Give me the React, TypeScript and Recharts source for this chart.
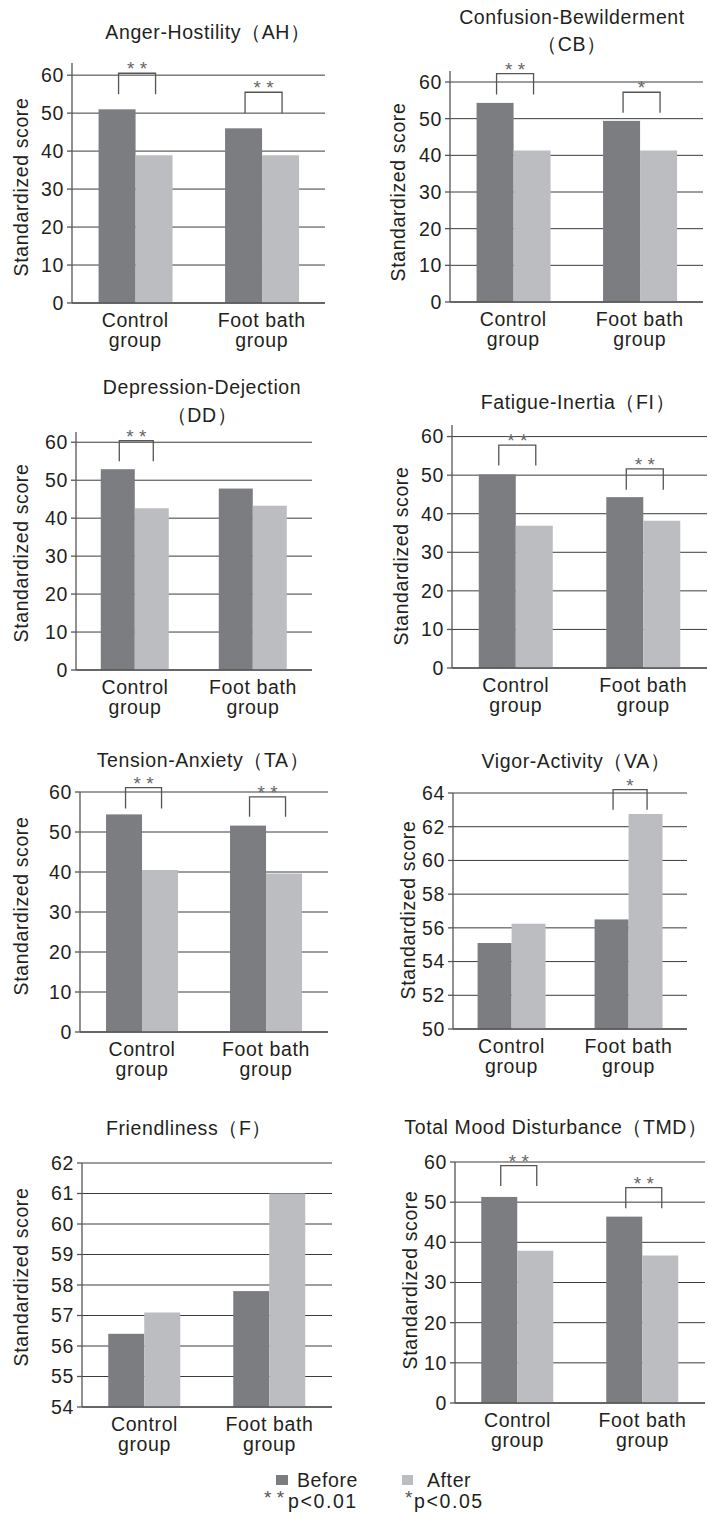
import React from 'react'
import { BarChart, Bar, XAxis, YAxis, CartesianGrid } from 'recharts'

const FONT = "'Liberation Sans', Arial, Helvetica, sans-serif"
const INK = '#231f20'
const BEFORE_COLOR = '#7c7d81'
const AFTER_COLOR = '#bcbdc1'
const FS = 19.5
const LS = 0.6

const groups = ['Control group', 'Foot bath group']

// Anger-Hostility
const ahBefore = [51.0, 46.0]
const ahAfter = [38.9, 38.9]
const ahSig = ['**', '**']
const ahBracketTop = [60.5, 55.5]
const ahBracketLeg = [55.0, 50.0]

// Confusion-Bewilderment
const cbBefore = [54.3, 49.4]
const cbAfter = [41.3, 41.3]
const cbSig = ['**', '*']
const cbBracketTop = [62.3, 57.2]
const cbBracketLeg = [56.6, 51.6]

// Depression-Dejection
const ddBefore = [52.9, 47.8]
const ddAfter = [42.6, 43.3]
const ddSig = ['**', '']
const ddBracketTop = [60.4, 0]
const ddBracketLeg = [55.0, 0]

// Fatigue-Inertia
const fiBefore = [50.2, 44.3]
const fiAfter = [36.9, 38.2]
const fiSig = ['**', '**']
const fiBracketTop = [57.8, 51.6]
const fiBracketLeg = [52.5, 46.2]

// Tension-Anxiety
const taBefore = [54.4, 51.6]
const taAfter = [40.5, 39.6]
const taSig = ['**', '**']
const taBracketTop = [61.1, 58.8]
const taBracketLeg = [55.9, 53.8]

// Vigor-Activity
const vaBefore = [55.1, 56.5]
const vaAfter = [56.25, 62.75]
const vaSig = ['', '*']
const vaBracketTop = [0, 64.2]
const vaBracketLeg = [0, 63.0]

// Friendliness
const fBefore = [56.4, 57.8]
const fAfter = [57.1, 61.0]
const fSig = ['', '']
const fBracketTop = [0, 0]
const fBracketLeg = [0, 0]

// Total Mood Disturbance
const tmdBefore = [51.3, 46.4]
const tmdAfter = [37.9, 36.7]
const tmdSig = ['**', '**']
const tmdBracketTop = [59.1, 53.6]
const tmdBracketLeg = [54.0, 48.5]

const ticks60 = [0, 10, 20, 30, 40, 50, 60]
const ticksVA = [50, 52, 54, 56, 58, 60, 62, 64]
const ticksF = [54, 55, 56, 57, 58, 59, 60, 61, 62]

function rows(before: number[], after: number[], sig: string[], top: number[], leg: number[]) {
  return groups.map((group, i) => ({
    group,
    before: before[i],
    after: after[i],
    sig: sig[i],
    bTop: top[i],
    bLeg: leg[i],
  }))
}

const panels = [
  { title: ['Anger-Hostility（AH）'], titleX: 208, titleY: [32], left: 0, axisX: 72, right: 325, topPx: 63, basePx: 303, domain: [0, 63.2], ticks: ticks60, labelX: 28, labelY: 187, data: rows(ahBefore, ahAfter, ahSig, ahBracketTop, ahBracketLeg) },
  { title: ['Confusion-Bewilderment', '（CB）'], titleX: 572, titleY: [17, 44], left: 350, axisX: 450, right: 703, topPx: 71, basePx: 302, domain: [0, 63], ticks: ticks60, labelX: 405, labelY: 192, data: rows(cbBefore, cbAfter, cbSig, cbBracketTop, cbBracketLeg) },
  { title: ['Depression-Dejection', '（DD）'], titleX: 202, titleY: [387, 415], left: 0, axisX: 76, right: 312, topPx: 432, basePx: 670, domain: [0, 62.7], ticks: ticks60, labelX: 28, labelY: 553, data: rows(ddBefore, ddAfter, ddSig, ddBracketTop, ddBracketLeg) },
  { title: ['Fatigue-Inertia（FI）'], titleX: 578, titleY: [402], left: 350, axisX: 452, right: 707, topPx: 425, basePx: 668, domain: [0, 63], ticks: ticks60, labelX: 408, labelY: 556, data: rows(fiBefore, fiAfter, fiSig, fiBracketTop, fiBracketLeg) },
  { title: ['Tension-Anxiety（TA）'], titleX: 203, titleY: [760], left: 0, axisX: 80, right: 328, topPx: 792, basePx: 1032, domain: [0, 60], ticks: ticks60, labelX: 28, labelY: 906, data: rows(taBefore, taAfter, taSig, taBracketTop, taBracketLeg) },
  { title: ['Vigor-Activity（VA）'], titleX: 576, titleY: [761], left: 350, axisX: 453, right: 687, topPx: 793, basePx: 1029, domain: [50, 64], ticks: ticksVA, labelX: 415, labelY: 910, data: rows(vaBefore, vaAfter, vaSig, vaBracketTop, vaBracketLeg) },
  { title: ['Friendliness（F）'], titleX: 189, titleY: [1128], left: 0, axisX: 82, right: 332, topPx: 1163, basePx: 1407, domain: [54, 62], ticks: ticksF, labelX: 28, labelY: 1277, data: rows(fBefore, fAfter, fSig, fBracketTop, fBracketLeg) },
  { title: ['Total Mood Disturbance（TMD）'], titleX: 556, titleY: [1127], left: 350, axisX: 455, right: 705, topPx: 1162, basePx: 1403, domain: [0, 60], ticks: ticks60, labelX: 417, labelY: 1280, data: rows(tmdBefore, tmdAfter, tmdSig, tmdBracketTop, tmdBracketLeg) },
]

// before bar + significance bracket, y positions derived from the bar's own scale
function makeBeforeShape(dmin: number) {
  return (p: any) => {
    const { x, y, width, height, payload, fill } = p
    const v = payload.before
    const base = y + height
    const k = height / (v - dmin)
    const py = (val: number) => base - (val - dmin) * k
    const parts = [<rect key="r" x={x} y={y} width={width} height={height} fill={fill} />]
    if (payload.sig) {
      const x1 = x + width / 2 + 1.5
      const x2 = x + width * 1.5 + 1.5
      const yt = py(payload.bTop)
      const yl = py(payload.bLeg)
      parts.push(
        <path key="b" d={`M${x1},${yl}V${yt}H${x2}V${yl}`} fill="none" stroke="#555" strokeWidth={1.3} />
      )
      parts.push(
        <text key="t" x={(x1 + x2) / 2} y={yt + 2} textAnchor="middle" fontSize={19} fill="#666" fontFamily={FONT}>
          {payload.sig.split('').join(' ')}
        </text>
      )
    }
    return <g>{parts}</g>
  }
}

const YTick = (props: any) => {
  const { x, y, payload } = props
  return (
    <text x={x} y={y} dy="0.355em" textAnchor="end" fontSize={FS} fill={INK} letterSpacing={LS} fontFamily={FONT}>
      {payload.value}
    </text>
  )
}

const XTick = (props: any) => {
  const { x, y, payload } = props
  const s = String(payload.value)
  const cut = s.lastIndexOf(' ')
  const lines = [s.slice(0, cut), s.slice(cut + 1)]
  return (
    <g>
      {lines.map((t, i) => (
        <text key={i} x={x} y={y + 23.5 + i * 20.5} textAnchor="middle" fontSize={FS} fill={INK} letterSpacing={LS} fontFamily={FONT}>
          {t}
        </text>
      ))}
    </g>
  )
}

function Panel({ s }: { s: any }) {
  const T = s.topPx - 38
  const H = s.basePx + 56 - T
  const W = s.right + 2 - s.left
  const lx = s.labelX - s.left
  const ly = s.labelY - T
  return (
    <>
      {s.title.map((t: string, i: number) => (
        <div
          key={i}
          style={{
            position: 'absolute', left: s.titleX - 170, width: 340, top: s.titleY[i] - 11,
            lineHeight: '22px', textAlign: 'center', fontSize: FS, letterSpacing: LS, color: INK, whiteSpace: 'nowrap',
          }}
        >
          {t}
        </div>
      ))}
      <div style={{ position: 'absolute', left: s.left, top: T }}>
        <BarChart
          width={W}
          height={H}
          data={s.data}
          margin={{ top: s.topPx - T, right: 2, bottom: 0, left: 0 }}
          barCategoryGap="21%"
          barGap={0}
        >
          <CartesianGrid vertical={false} horizontalValues={s.ticks} stroke="#3c3c3c" strokeWidth={1} />
          <XAxis
            dataKey="group"
            height={56}
            interval={0}
            tickLine={false}
            tickSize={0}
            tickMargin={0}
            axisLine={{ stroke: '#555', strokeWidth: 1.3 }}
            tick={<XTick />}
          />
          <YAxis
            width={s.axisX - s.left}
            domain={s.domain}
            ticks={s.ticks}
            tickSize={5}
            tickMargin={3}
            axisLine={{ stroke: '#555', strokeWidth: 1.3 }}
            tickLine={{ stroke: '#555', strokeWidth: 1.3 }}
            tick={<YTick />}
            label={{
              content: () => (
                <text
                  x={lx}
                  y={ly}
                  transform={`rotate(-90 ${lx} ${ly})`}
                  textAnchor="middle"
                  fontSize={FS}
                  fill={INK}
                  letterSpacing={LS}
                  fontFamily={FONT}
                >
                  Standardized score
                </text>
              ),
            }}
          />
          <Bar dataKey="before" fill={BEFORE_COLOR} isAnimationActive={false} shape={makeBeforeShape(s.domain[0])} />
          <Bar dataKey="after" fill={AFTER_COLOR} isAnimationActive={false} />
        </BarChart>
      </div>
    </>
  )
}

export default function App() {
  const txt = { position: 'absolute' as const, fontSize: FS, letterSpacing: LS, color: INK, lineHeight: '22px', whiteSpace: 'nowrap' as const }
  return (
    <div style={{ position: 'absolute', left: 0, top: 0, width: 709, height: 1513, background: '#fff', fontFamily: FONT }}>
      {panels.map((s, i) => (
        <Panel key={i} s={s} />
      ))}
      {/* legend */}
      <div style={{ position: 'absolute', left: 276, top: 1475, width: 12, height: 10, background: BEFORE_COLOR }} />
      <div style={{ ...txt, left: 297, top: 1469 }}>Before</div>
      <div style={{ position: 'absolute', left: 402, top: 1475, width: 11, height: 10, background: AFTER_COLOR }} />
      <div style={{ ...txt, left: 427, top: 1469 }}>After</div>
      <div style={{ ...txt, left: 264, top: 1487, fontSize: 19, letterSpacing: 0, color: '#555' }}>* *</div>
      <div style={{ ...txt, left: 288, top: 1490, letterSpacing: 1.6 }}>p&lt;0.01</div>
      <div style={{ ...txt, left: 405, top: 1487, fontSize: 19, letterSpacing: 0, color: '#555' }}>*</div>
      <div style={{ ...txt, left: 414, top: 1490, letterSpacing: 1.6 }}>p&lt;0.05</div>
    </div>
  )
}
